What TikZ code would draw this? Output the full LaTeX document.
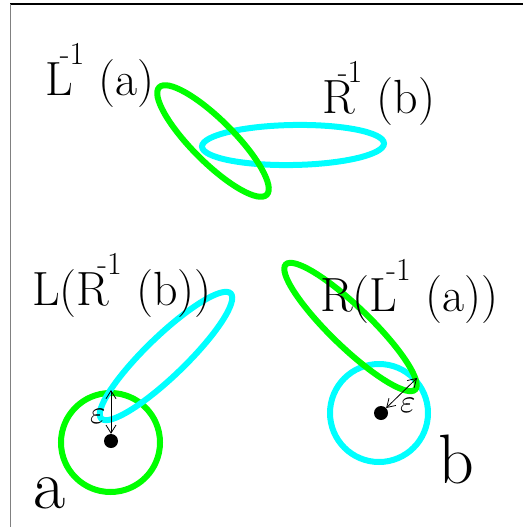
\documentclass[tikz,border=0pt]{standalone}
\usepackage{fontspec}
\usepackage{graphicx}
\usepackage{xcolor}
\usepackage{tikz}
\usetikzlibrary{arrows.meta}
\definecolor{setgreen}{RGB}{0,255,0}
\definecolor{setcyan}{RGB}{0,255,255}
\newcommand{\inv}[1]{\kern#1\raisebox{31pt}{\fontsize{32}{32}\selectfont -1}}
\newcommand{\eps}{\scalebox{3.3}{$\varepsilon$}}
\tikzset{
  lbl/.style={font=\fontsize{48}{58}\selectfont, inner sep=0pt, anchor=base west},
  pointlbl/.style={font=\fontsize{70}{80}\selectfont, inner sep=0pt, anchor=base west},
  epslbl/.style={inner sep=0pt, anchor=base west},
  gset/.style={draw=setgreen, line width=6pt},
  cset/.style={draw=setcyan, line width=6pt},
  dot/.style={circle, fill=black, inner sep=0pt, minimum size=14pt},
  epsarrow/.style={<->, >={Straight Barb[length=8pt, width=10pt]}, line width=0.8pt}
}

\begin{document}
\begin{tikzpicture}[x=1pt, y=-1pt]
    \useasboundingbox (0,0) rectangle (523,527);
    \draw[black, line width=1.5pt] (10,4) -- (523,4);
    \draw[gray, line width=1pt] (10,4) -- (10,527);

    % preimages
    \draw[cset, shift={(293,145)}, rotate=1] (0,0) ellipse [x radius=91, y radius=20];
    \draw[gset, shift={(213,141)}, rotate=-45] (0,0) ellipse [x radius=76, y radius=21];
    \node[lbl] (linva) at (45,95) {L\inv{-13pt}\ (a)};
    \node[lbl] (rinvb) at (322,113) {R\inv{-17pt}\ (b)};

    % around a
    \draw[gset] (110.5,442.5) circle (49.5);
    \draw[cset, shift={(166,356)}, rotate=44] (0,0) ellipse [x radius=90, y radius=20];
    \node[lbl] (lrb) at (32,305) {L(R\inv{-12pt}\ (b))};
    \node[dot] (pa) at (111,441) {};
    \coordinate (ea) at (111,390);
    \draw[epsarrow] (pa) -- (ea);
    \node[epslbl] (epsa) at (90,423) {\eps};
    \node[pointlbl] (la) at (33,508) {a};

    % around b
    \draw[cset] (379,413) circle (49);
    \draw[gset, shift={(350.5,327)}, rotate=-44] (0,0) ellipse [x radius=90, y radius=20];
    \node[lbl] (rla) at (320,311) {R(L\inv{-11pt}\ (a))};
    \node[dot] (pb) at (381,413) {};
    \coordinate (eb) at (417,378);
    \draw[epsarrow] (pb) -- (eb);
    \node[epslbl] (epsb) at (400,412) {\eps};
    \node[pointlbl] (lb) at (438,483) {b};
\end{tikzpicture}
\end{document}
